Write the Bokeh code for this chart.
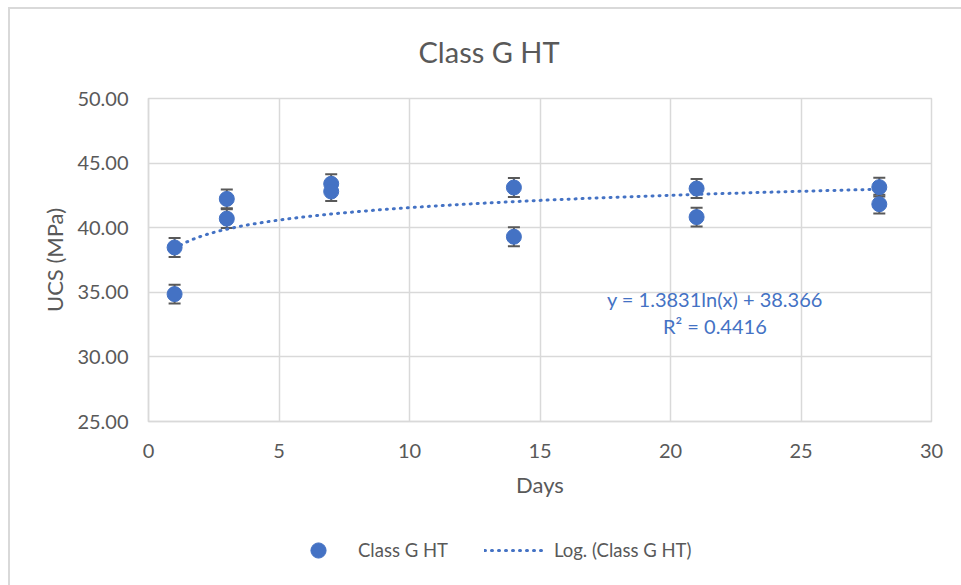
from bokeh.plotting import figure
from bokeh.layouts import column
from bokeh.models import (ColumnDataSource, Whisker, Label, Legend, LegendItem,
                          FixedTicker, NumeralTickFormatter, Range1d)
from bokeh.embed import file_html
from bokeh.resources import INLINE
import numpy as np

# UCS measurements (two specimens per curing age)
days = [1, 1, 3, 3, 7, 7, 14, 14, 21, 21, 28, 28]
ucs = [38.47, 34.86, 42.23, 40.70, 43.40, 42.80, 43.11, 39.30, 43.03, 40.82, 43.14, 41.82]
err = [0.73, 0.73, 0.73, 0.73, 0.73, 0.73, 0.73, 0.73, 0.73, 0.73, 0.73, 0.73]

# logarithmic trendline coefficients
slope = 1.3831
intercept = 38.366
r_squared = 0.4416

x_ticks = [0, 5, 10, 15, 20, 25, 30]
y_ticks = [25, 30, 35, 40, 45, 50]

FONT = "Lato"
GREY = "#595959"
BLUE = "#4472C4"
GRID = "#d9d9d9"

p = figure(width=961, height=520, output_backend="svg", toolbar_location=None,
           x_range=Range1d(0, 30), y_range=Range1d(25, 50),
           min_border_left=148, min_border_right=30, min_border_top=98,
           min_border_bottom=99, border_fill_color=None)
p.outline_line_color = GRID
p.outline_line_width = 1.5

p.title.text = "Class G HT"
p.title.align = "left"
p.title.offset = 270
p.title.standoff = 60
p.title.text_font = FONT
p.title.text_font_size = "29px"
p.title.text_font_style = "normal"
p.title.text_color = GREY

for ax in (p.xaxis[0], p.yaxis[0]):
    ax.axis_line_color = GRID
    ax.axis_line_width = 1.5
    ax.major_tick_line_color = None
    ax.minor_tick_line_color = None
    ax.major_label_text_font = FONT
    ax.major_label_text_font_size = "20px"
    ax.major_label_text_color = GREY
    ax.axis_label_text_font = FONT
    ax.axis_label_text_font_size = "22px"
    ax.axis_label_text_font_style = "normal"
    ax.axis_label_text_color = GREY

p.xaxis.ticker = FixedTicker(ticks=x_ticks)
p.yaxis.ticker = FixedTicker(ticks=y_ticks)
p.yaxis.formatter = NumeralTickFormatter(format="0.00")
p.xaxis.major_label_standoff = 16
p.yaxis.major_label_standoff = 14
p.xaxis.axis_label = "Days"
p.yaxis.axis_label = "UCS (MPa)"
p.xaxis.axis_label_standoff = 10
p.yaxis.axis_label_standoff = 6

p.xgrid.ticker = FixedTicker(ticks=x_ticks)
p.ygrid.ticker = FixedTicker(ticks=y_ticks)
p.grid.grid_line_color = GRID
p.grid.grid_line_width = 1.5

src = ColumnDataSource(dict(
    x=days, y=ucs,
    lo=[v - e for v, e in zip(ucs, err)],
    hi=[v + e for v, e in zip(ucs, err)],
))

# trendline y = slope*ln(x) + intercept
tx = np.linspace(min(days), max(days), 200)
ty = slope * np.log(tx) + intercept
line_style = dict(line_color=BLUE, line_width=3, line_dash="1 6", line_cap="round")
marker_style = dict(size=15, fill_color=BLUE, line_color=BLUE)

p.line(tx, ty, **line_style)
p.scatter("x", "y", source=src, **marker_style)

wh = Whisker(base="x", lower="lo", upper="hi", source=src,
             line_color=GREY, line_width=2)
for head in (wh.upper_head, wh.lower_head):
    head.size = 12
    head.line_color = GREY
    head.line_width = 2
p.add_layout(wh)

# trendline equation
p.add_layout(Label(x=21.7, y=34.52, text=f"y = {slope}ln(x) + {intercept}",
                   text_font=FONT, text_font_size="20px", text_color=BLUE,
                   text_align="center", text_baseline="middle"))
p.add_layout(Label(x=21.7, y=32.43, text=f"R² = {r_squared}",
                   text_font=FONT, text_font_size="20px", text_color=BLUE,
                   text_align="center", text_baseline="middle"))

# legend strip under the chart; its glyphs reuse the series data, which
# lies outside this strip's 0..1 ranges, so only the legend keys show
leg = figure(width=961, height=65, output_backend="svg", toolbar_location=None,
             x_range=Range1d(0, 1), y_range=Range1d(0, 1),
             min_border=0, border_fill_color=None, background_fill_color=None,
             x_axis_type=None, y_axis_type=None)
leg.outline_line_color = None
leg.grid.visible = False
key_pts = leg.scatter("x", "y", source=src, **marker_style)
key_line = leg.line(tx, ty, **line_style)
legend = Legend(items=[LegendItem(label="Class G HT", renderers=[key_pts]),
                       LegendItem(label="Log. (Class G HT)", renderers=[key_line])],
                orientation="horizontal", location=(140, 16),
                glyph_width=60, glyph_height=38, label_standoff=10, spacing=36,
                padding=0, margin=0, border_line_color=None,
                background_fill_alpha=0,
                label_text_font=FONT, label_text_font_size="18.5px",
                label_text_color=GREY)
leg.add_layout(legend, "center")

page = column(p, leg, spacing=0)
# light chart-area border along the top and left edges
page.styles = {
    "background-color": "white",
    "background-image": "linear-gradient(#d9d9d9, #d9d9d9), linear-gradient(#d9d9d9, #d9d9d9)",
    "background-position": "8px 7px, 8px 7px",
    "background-size": "2px 100%, 100% 2px",
    "background-repeat": "no-repeat",
}

open("out.html", "w").write(file_html(page, INLINE))
